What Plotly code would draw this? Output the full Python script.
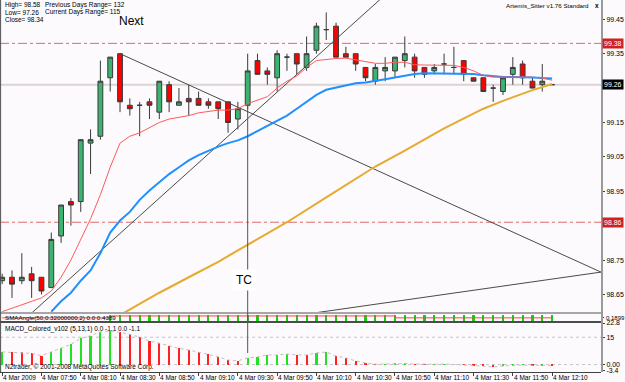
import plotly.graph_objects as go

# ---------------- data ----------------
bar_index = list(range(-1, 56))  # M5 bars, -1 = 07:30 ... 55 = 12:10

opens = [98.69, 98.70, 98.69, 98.71, 98.70, 98.67, 98.82, 98.92, 98.92, 99.09,
         99.11, 99.28, 99.35, 99.20, 99.20, 99.21, 99.18, 99.26, 99.20, 99.22,
         99.22, 99.21, 99.21, 99.21, 99.16, 99.20, 99.33, 99.30, 99.28, 99.34,
         99.35, 99.31, 99.36, 99.42, 99.43, 99.35, 99.35, 99.31, 99.27, 99.30,
         99.30, 99.33, 99.34, 99.31, 99.30, 99.32, 99.31, 99.33, 99.28, 99.28,
         99.25, 99.24, 99.29, 99.32, 99.27, 99.26, 99.26]
highs = [98.71, 98.72, 98.77, 98.73, 98.70, 98.83, 98.91, 98.93, 99.10, 99.13,
         99.33, 99.34, 99.35, 99.22, 99.21, 99.22, 99.27, 99.27, 99.25, 99.26,
         99.24, 99.22, 99.21, 99.21, 99.21, 99.35, 99.35, 99.31, 99.36, 99.35,
         99.35, 99.40, 99.44, 99.47, 99.44, 99.37, 99.35, 99.31, 99.32, 99.34,
         99.34, 99.40, 99.35, 99.31, 99.32, 99.35, 99.37, 99.33, 99.28, 99.28,
         99.26, 99.28, 99.34, 99.33, 99.28, 99.32, 99.26]
lows = [98.68, 98.64, 98.68, 98.64, 98.65, 98.67, 98.80, 98.85, 98.89, 99.00,
        99.10, 99.24, 99.18, 99.17, 99.11, 99.16, 99.16, 99.18, 99.20, 99.17,
        99.20, 99.19, 99.16, 99.12, 99.13, 99.19, 99.29, 99.26, 99.24, 99.30,
        99.29, 99.30, 99.35, 99.39, 99.34, 99.34, 99.30, 99.27, 99.26, 99.27,
        99.28, 99.31, 99.28, 99.28, 99.29, 99.29, 99.29, 99.27, 99.27, 99.24,
        99.21, 99.23, 99.26, 99.26, 99.25, 99.24, 99.26]
closes = [98.70, 98.68, 98.70, 98.69, 98.66, 98.81, 98.91, 98.91, 99.10, 99.10,
          99.27, 99.34, 99.21, 99.19, 99.20, 99.20, 99.27, 99.21, 99.21, 99.21,
          99.20, 99.20, 99.19, 99.15, 99.19, 99.30, 99.29, 99.29, 99.35, 99.34,
          99.32, 99.35, 99.43, 99.42, 99.34, 99.34, 99.32, 99.28, 99.31, 99.31,
          99.34, 99.35, 99.30, 99.29, 99.31, 99.32, 99.31, 99.29, 99.27, 99.24,
          99.25, 99.28, 99.31, 99.28, 99.25, 99.27, 99.26]

# fast MA (red), bars -1..55
ma_fast_x = list(range(-1, 56))
ma_fast = [98.60, 98.61, 98.62, 98.63, 98.64, 98.66, 98.70, 98.75, 98.81, 98.87,
           98.94, 99.02, 99.09, 99.11, 99.12, 99.135, 99.15, 99.16, 99.165, 99.17,
           99.178, 99.183, 99.186, 99.186, 99.19, 99.205, 99.215, 99.225, 99.25, 99.27,
           99.285, 99.31, 99.33, 99.334, 99.336, 99.337, 99.332, 99.325, 99.322, 99.322,
           99.325, 99.325, 99.318, 99.317, 99.317, 99.317, 99.316, 99.31, 99.30, 99.287,
           99.282, 99.282, 99.282, 99.283, 99.282, 99.279, 99.273]

# medium MA (blue), bars 4..55
ma_mid_x = list(range(4, 56))
ma_mid = [98.60, 98.63, 98.655, 98.69, 98.72, 98.77, 98.83, 98.865, 98.89, 98.925,
          98.952, 98.975, 99.00, 99.02, 99.04, 99.055, 99.068, 99.08, 99.09, 99.098,
          99.11, 99.125, 99.14, 99.155, 99.17, 99.19, 99.21, 99.23, 99.245, 99.252,
          99.258, 99.264, 99.266, 99.27, 99.276, 99.281, 99.286, 99.291, 99.293, 99.293,
          99.293, 99.293, 99.293, 99.291, 99.287, 99.284, 99.282, 99.282, 99.282, 99.281,
          99.279, 99.278]

# slow MA (orange), read points
ma_slow_x = [11, 12, 15, 18, 21, 23, 28, 32, 37, 40, 44, 48, 50, 53, 55]
ma_slow = [98.59, 98.606, 98.655, 98.700, 98.745, 98.778, 98.860, 98.932, 99.022,
           99.068, 99.133, 99.190, 99.213, 99.244, 99.262]

# trend lines (bar index, price)
trend_next_x, trend_next_y = [11, 59.98], [99.35, 98.715]
trend_up_x, trend_up_y = [2.0, 38.0], [98.596, 99.521]
trend_low_x, trend_low_y = [30.0, 59.98], [98.593, 98.715]
tc_bar = 24

level_prices = [99.38, 98.86]
bid_price = 99.26

right_ticks = [99.45, 99.35, 99.15, 99.05, 98.95, 98.75, 98.65]

# SMA angle panel
sma_bar_x = list(range(10, 56))
sma_bar_val = [0.85] * len(sma_bar_x)
sma_line_x = [-1, 10, 39, 55]
sma_line_val = [0.45, 0.72, 0.45, 0.45]
sma_label = "0.1899"

# MACD (5,13,1) histogram
macd_vals = [6.9, 6.7, 6.7, 6.2, 4.9, 7.1, 9.3, 11.1, 14.4, 15.8,
             18.0, 18.4, 17.7, 16.6, 15.0, 12.9, 11.7, 10.2, 8.9, 8.0,
             6.7, 5.6, 4.3, 2.5, 2.1, 3.6, 4.2, 5.3, 5.3, 5.8,
             5.3, 5.3, 6.4, 6.9, 4.7, 3.6, 2.0, 0.9, 0.2, 0.3,
             0.5, 0.6, 0.3, 0.1, 0.2, 0.3, 0.2, -0.2, -0.5, -0.8,
             -1.3, -0.8, -0.4, -0.2, -0.5, -0.3, -0.6]
macd_dir = (["g"] + ["r"] * 4 + ["g"] * 7 + ["r"] * 13 + ["g"] * 5 + ["r"] * 2 +
            ["g"] * 2 + ["r"] * 5 + ["g"] * 3 + ["r"] * 2 + ["g"] * 2 + ["r"] * 5 +
            ["g"] * 3 + ["r"] + ["g"] + ["r"])

tick_idx = [-1, 3, 7, 11, 15, 19, 23, 27, 31, 35, 39, 43, 47, 51, 55]
tick_text = ["4 Mar 2009", "4 Mar 07:50", "4 Mar 08:10", "4 Mar 08:30", "4 Mar 08:50",
             "4 Mar 09:10", "4 Mar 09:30", "4 Mar 09:50", "4 Mar 10:10", "4 Mar 10:30",
             "4 Mar 10:50", "4 Mar 11:10", "4 Mar 11:30", "4 Mar 11:50", "4 Mar 12:10"]

# ---------------- layout geometry ----------------
W, H = 625, 382
PLOT_H = 372.0
def py(pix):  # pixel row -> paper y
    return (PLOT_H - pix) / PLOT_H

FONT = "Liberation Sans"
BG = "#fcfafc"

fig = go.Figure()

fig.add_trace(go.Candlestick(
    x=bar_index, open=opens, high=highs, low=lows, close=closes,
    increasing=dict(fillcolor="#3cb371", line=dict(color="#3a3a3a", width=1)),
    decreasing=dict(fillcolor="#ff0000", line=dict(color="#3a3a3a", width=1)),
    whiskerwidth=0, showlegend=False, hoverinfo="skip", xaxis="x", yaxis="y"))

for xs, ys, col, w in [(trend_next_x, trend_next_y, "#4a4a4a", 1),
                       (trend_up_x, trend_up_y, "#4a4a4a", 1),
                       (trend_low_x, trend_low_y, "#4a4a4a", 1),
                       (ma_slow_x, ma_slow, "#e6aa2e", 2),
                       (ma_mid_x, ma_mid, "#1e90ff", 2),
                       (ma_fast_x, ma_fast, "#ff5a5a", 1)]:
    fig.add_trace(go.Scatter(x=xs, y=ys, mode="lines", line=dict(color=col, width=w),
                             showlegend=False, hoverinfo="skip", xaxis="x", yaxis="y"))

# SMA angle panel
fig.add_trace(go.Bar(x=sma_bar_x, y=sma_bar_val, width=0.22, marker=dict(color="#10d010", line=dict(width=0)),
                     showlegend=False, hoverinfo="skip", xaxis="x2", yaxis="y2"))
fig.add_trace(go.Scatter(x=sma_line_x, y=sma_line_val, mode="lines", line=dict(color="#ff4040", width=1, shape="hv"),
                         showlegend=False, hoverinfo="skip", xaxis="x2", yaxis="y2"))

# MACD panel
fig.add_trace(go.Bar(x=bar_index, y=macd_vals, base=0, width=0.22,
                     marker=dict(color=["#22e022" if d == "g" else "#ff2020" for d in macd_dir], line=dict(width=0)),
                     showlegend=False, hoverinfo="skip", xaxis="x3", yaxis="y3"))
fig.add_trace(go.Scatter(x=bar_index, y=macd_vals, mode="lines", line=dict(color="#c8bcbc", width=1, dash="dot"),
                         showlegend=False, hoverinfo="skip", xaxis="x3", yaxis="y3"))

shapes = []
for p in level_prices:
    shapes.append(dict(type="line", xref="paper", yref="y", x0=0, x1=1, y0=p, y1=p,
                       line=dict(color="#e06a6a", width=1, dash="dashdot"), layer="below"))
shapes.append(dict(type="line", xref="paper", yref="y", x0=0, x1=1, y0=bid_price, y1=bid_price,
                   line=dict(color="#ddd3d3", width=2), layer="below"))
for lv in [15, 0]:
    shapes.append(dict(type="line", xref="paper", yref="y3", x0=0, x1=1, y0=lv, y1=lv,
                       line=dict(color="#c4c4c4", width=1, dash="dot"), layer="below"))
shapes.append(dict(type="rect", xref="paper", yref="paper", x0=0, x1=1, y0=py(314), y1=py(312),
                   fillcolor="#a6a6a6", line=dict(width=0)))
shapes.append(dict(type="rect", xref="paper", yref="paper", x0=0, x1=1, y0=py(323), y1=py(321),
                   fillcolor="#4c4c4c", line=dict(width=0)))
shapes.append(dict(type="line", xref="paper", yref="paper", x0=1 + 1 / 601, x1=1 + 1 / 601, y0=0, y1=1,
                   line=dict(color="#9a9a9a", width=2)))
shapes.append(dict(type="line", xref="paper", yref="paper", x0=0.6 / 601, x1=0.6 / 601, y0=0, y1=1,
                   line=dict(color="#505050", width=1)))
shapes.append(dict(type="line", xref="x", yref="paper", x0=tc_bar, x1=tc_bar, y0=py(353), y1=py(105),
                   line=dict(color="#555555", width=1)))

ann = []
def txt(x, y, s, size=6.5, xanchor="left", color="#000", **kw):
    d = dict(xref="paper", yref="paper", x=x, y=y, text=s, showarrow=False, xanchor=xanchor,
             yanchor="middle", font=dict(family=FONT, size=size, color=color))
    d.update(kw)
    ann.append(d)

txt(3 / 601, py(5.5), "High= 98.58")
txt(43 / 601, py(5.5), "Previous Days Range= 132")
txt(3 / 601, py(12.5), "Low= 97.26")
txt(43 / 601, py(12.5), "Current Days Range= 115")
txt(3 / 601, py(19.5), "Close= 98.34")
txt(117 / 601, py(21), "Next", size=12)
txt(591 / 601, py(6), "Artemis_Sitter v1.76 Standard", size=6.2, xanchor="right")
txt(597 / 601, py(6), "<b>x</b>", size=6.5, xanchor="center")
txt(3 / 601, py(317.5), "SMAAngle(50,0.32000000,2) 0.0 0.4389", size=6.2)
txt(3 / 601, py(329), "MACD_Colored_v102 (5,13,1) 0.0 -1.1 0.0 -1.1", size=6.5)
txt(3 / 601, py(366.5), "N2trader, © 2001-2008 MetaQuotes Software Corp.", size=6.5)
# right-side value of the SMA angle panel
txt(1 + 3 / 601, py(317.5), sma_label, size=6)

ann.append(dict(xref="x", yref="paper", x=tc_bar, xshift=-4, y=py(280), text="TC", showarrow=False,
                xanchor="center", yanchor="middle", bgcolor="#ffffff", borderpad=3,
                font=dict(family=FONT, size=12, color="#000")))

for p, bg in [(level_prices[0], "#d02020"), (bid_price, "#000000"), (level_prices[1], "#d02020")]:
    ann.append(dict(xref="paper", yref="y", x=1, xshift=1, y=p, text=f"{p:.2f}", showarrow=False,
                    xanchor="left", yanchor="middle", bgcolor=bg, borderpad=1,
                    font=dict(family=FONT, size=7, color="#ffffff")))

for i, s in zip(tick_idx, tick_text):
    ann.append(dict(xref="x3", yref="paper", x=i, y=py(377.5), text=s, showarrow=False,
                    xanchor="left", yanchor="middle", xshift=-1,
                    font=dict(family=FONT, size=6.5, color="#000")))

axis_common = dict(showgrid=False, zeroline=False, fixedrange=True, automargin=False)
tickfont = dict(family=FONT, size=7, color="#000")

fig.update_layout(
    width=W, height=H, margin=dict(l=0, r=24, t=0, b=10),
    paper_bgcolor=BG, plot_bgcolor=BG, showlegend=False, hovermode=False,
    bargap=0, shapes=shapes, annotations=ann,
    xaxis=dict(domain=[0, 1], range=[-1.222, 59.98], anchor="y", showticklabels=False, ticks="",
               rangeslider=dict(visible=False), **axis_common),
    xaxis2=dict(domain=[0, 1], range=[-1.222, 59.98], anchor="y2", matches="x", showticklabels=False,
                ticks="", **axis_common),
    xaxis3=dict(domain=[0, 1], range=[-1.222, 59.98], anchor="y3", matches="x", showticklabels=False,
                tickvals=tick_idx, ticks="outside", ticklen=3, tickcolor="#404040",
                showline=True, linecolor="#404040", linewidth=1, **axis_common),
    yaxis=dict(domain=[py(312), 1], range=[98.599, 99.5061], anchor="x", side="right",
               tickvals=right_ticks, ticktext=[f"{v:.2f}" for v in right_ticks],
               ticks="outside", ticklen=3, tickcolor="#404040", tickfont=tickfont, **axis_common),
    yaxis2=dict(domain=[py(321), py(314)], range=[0, 1], anchor="x2", side="right",
                tickvals=[0.5], ticks="outside", ticklen=2, tickcolor="#404040",
                showticklabels=False, **axis_common),
    yaxis3=dict(domain=[0, py(323)], range=[-4.06, 22.8], anchor="x3", side="right",
                tickvals=[22.8, 15, 0, -3.4], ticktext=["22.8", "15", "0.00", "-3.4"],
                ticks="outside", ticklen=3, tickcolor="#404040", tickfont=tickfont, **axis_common),
)

fig.write_html("out.html")
